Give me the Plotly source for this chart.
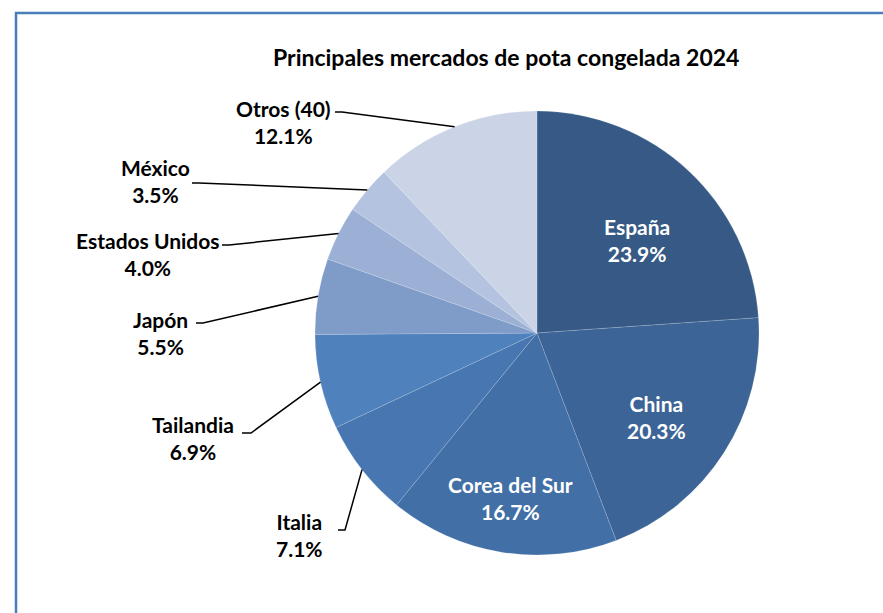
import math
import plotly.graph_objects as go

# ---- data ----
mercados = ["España", "China", "Corea del Sur", "Italia", "Tailandia",
            "Japón", "Estados Unidos", "México", "Otros (40)"]
porcentajes = [23.9, 20.3, 16.7, 7.1, 6.9, 5.5, 4.0, 3.5, 12.1]
titulo = "Principales mercados de pota congelada 2024"

# ---- style ----
colores = ["#365a85", "#3c6496", "#416fa6", "#4876b0", "#4f81bd",
           "#7f9cc9", "#9bb0d4", "#b4c3df", "#cbd4e6"]
W, H = 883, 613
CX, CY, R = 537, 333, 222
FONT = "Lato"

def px(x):
    return x / W

def py(y):
    return 1 - y / H

# label centres (pixels) for each slice
label_pos = [(637, 240), (656, 417), (510, 498), (299, 535), (193, 438),
             (160, 333), (148, 254), (155, 181), (283, 122)]
inside = [True, True, True, False, False, False, False, False, False]
# outer end of leader lines (pixels), polyline points before the pie edge
leader_pts = [None, None, None,
              [(338, 530), (345, 530)],
              [(242, 433), (251, 433)],
              [(196, 323), (203, 323)],
              [(222, 245), (229, 245)],
              [(192, 183), (199, 183)],
              [(335, 112), (342, 112)]]

fig = go.Figure()
fig.add_trace(go.Pie(
    labels=mercados, values=porcentajes, sort=False, direction="clockwise",
    rotation=0, marker=dict(colors=colores, line=dict(width=0.6, color="rgba(255,255,255,0.25)")),
    textinfo="none", hoverinfo="label+percent", showlegend=False,
    domain=dict(x=[px(CX - R), px(CX + R)], y=[py(CY + R), py(CY - R)]),
))

total = sum(porcentajes)
cum = 0.0
shapes = []
annotations = []
for i, (m, v) in enumerate(zip(mercados, porcentajes)):
    mid = (cum + v / 2) / total * 2 * math.pi
    cum += v
    lx, ly = label_pos[i]
    col = "white" if inside[i] else "black"
    annotations.append(dict(
        x=px(lx), y=py(ly), xref="paper", yref="paper", showarrow=False,
        xanchor="center", yanchor="middle",
        text=f"{m}<br>{v:.1f}%", align="center",
        font=dict(family=FONT, size=21, color=col, weight="bold")))
    if leader_pts[i]:
        ex = CX + R * math.sin(mid)
        ey = CY - R * math.cos(mid)
        pts = leader_pts[i] + [(ex, ey)]
        path = "M " + " L ".join(f"{px(a)},{py(b)}" for a, b in pts)
        shapes.append(dict(type="path", xref="paper", yref="paper", path=path,
                           line=dict(color="black", width=1.5)))

annotations.append(dict(
    x=px(506), y=py(57), xref="paper", yref="paper", showarrow=False,
    xanchor="center", yanchor="middle",
    text=titulo, font=dict(family=FONT, size=23, color="black", weight="bold")))

# chart frame (cropped on right/bottom)
shapes.append(dict(type="path", xref="paper", yref="paper",
                   path=f"M {px(16)},{py(640)} L {px(16)},{py(13)} L {px(900)},{py(13)}",
                   line=dict(color="#4a7ebb", width=2.5)))

fig.update_layout(
    width=W, height=H, margin=dict(l=0, r=0, t=0, b=0),
    paper_bgcolor="white", plot_bgcolor="white",
    shapes=shapes, annotations=annotations,
)
fig.write_html("out.html", config={"displayModeBar": False},
               post_script="document.body.style.margin='0';")
